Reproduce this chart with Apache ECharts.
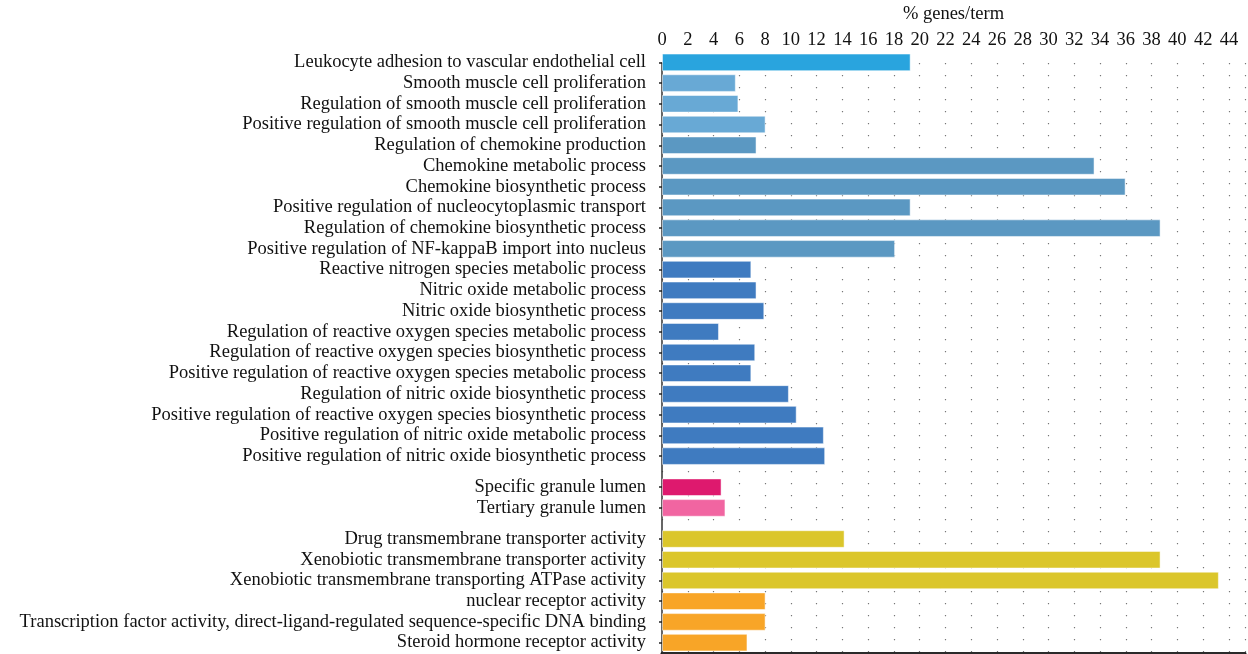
<!DOCTYPE html>
<html>
<head>
<meta charset="utf-8">
<title>% genes/term</title>
<script src="https://cdn.jsdelivr.net/npm/echarts@6/dist/echarts.min.js"></script>
<style>
    html, body { margin: 0; padding: 0; background: #fff; }
    #chart { width: 1248px; height: 654px; }
</style>
</head>
<body>
<div id="chart"></div>
<script>
// ---- data ----
const processTerms = [
    'Leukocyte adhesion to vascular endothelial cell',
    'Smooth muscle cell proliferation',
    'Regulation of smooth muscle cell proliferation',
    'Positive regulation of smooth muscle cell proliferation',
    'Regulation of chemokine production',
    'Chemokine metabolic process',
    'Chemokine biosynthetic process',
    'Positive regulation of nucleocytoplasmic transport',
    'Regulation of chemokine biosynthetic process',
    'Positive regulation of NF-kappaB import into nucleus',
    'Reactive nitrogen species metabolic process',
    'Nitric oxide metabolic process',
    'Nitric oxide biosynthetic process',
    'Regulation of reactive oxygen species metabolic process',
    'Regulation of reactive oxygen species biosynthetic process',
    'Positive regulation of reactive oxygen species metabolic process',
    'Regulation of nitric oxide biosynthetic process',
    'Positive regulation of reactive oxygen species biosynthetic process',
    'Positive regulation of nitric oxide metabolic process',
    'Positive regulation of nitric oxide biosynthetic process'
];
const processValues = [19.2, 5.7, 5.9, 8.0, 7.3, 33.4, 35.8, 19.2, 38.5, 18.0,
    6.9, 7.3, 7.9, 4.4, 7.2, 6.9, 9.8, 10.4, 12.5, 12.6];

const componentTerms = ['Specific granule lumen', 'Tertiary granule lumen'];
const componentValues = [4.6, 4.9];

const functionTerms = [
    'Drug transmembrane transporter activity',
    'Xenobiotic transmembrane transporter activity',
    'Xenobiotic transmembrane transporting ATPase activity',
    'nuclear receptor activity',
    'Transcription factor activity, direct-ligand-regulated sequence-specific DNA binding',
    'Steroid hormone receptor activity'
];
const functionValues = [14.1, 38.5, 43.0, 8.0, 8.0, 6.6];

const xTicks = [0, 2, 4, 6, 8, 10, 12, 14, 16, 18, 20, 22, 24, 26, 28, 30, 32, 34, 36, 38, 40, 42, 44];

// ---- styles ----
const processColors = ['#29a4de', '#68a9d5', '#68a9d5', '#68a9d5',
    '#5b98c2', '#5b98c2', '#5b98c2', '#5b98c2', '#5b98c2', '#5b98c2',
    '#3f7bc0', '#3f7bc0', '#3f7bc0', '#3f7bc0', '#3f7bc0',
    '#3f7bc0', '#3f7bc0', '#3f7bc0', '#3f7bc0', '#3f7bc0'];
const componentColors = ['#de196e', '#f165a1'];
const functionColors = ['#dbc62b', '#dbc62b', '#dbc62b', '#f8a527', '#f8a527', '#f8a527'];

const FONT = '"Liberation Serif", "DejaVu Serif", serif';
const FONT_SIZE = 18.5;
const X_MAX = 45.25;

const PLOT_LEFT = 662, PLOT_TOP = 52, PLOT_BOTTOM = 653;
const groups = [
    { terms: processTerms, values: processValues, colors: processColors },
    { terms: componentTerms, values: componentValues, colors: componentColors },
    { terms: functionTerms, values: functionValues, colors: functionColors }
];
const totalRows = groups.reduce((s, g) => s + g.terms.length, 0) + (groups.length - 1) * 0.5;
const rowH = (PLOT_BOTTOM - PLOT_TOP) / totalRows;

// background grid: top axis, dotted grid lines, left/bottom axis lines
const grids = [{ left: PLOT_LEFT, right: 0, top: PLOT_TOP, height: PLOT_BOTTOM - PLOT_TOP }];
const xAxes = [{
    gridIndex: 0,
    type: 'value',
    position: 'top',
    min: 0, max: X_MAX, interval: 2,
    name: '% genes/term',
    nameLocation: 'middle',
    nameGap: 39,
    nameTextStyle: { fontFamily: FONT, fontSize: FONT_SIZE, color: '#111' },
    axisLine: { show: true, lineStyle: { color: '#111', width: 3 } },
    axisTick: { show: false },
    axisLabel: {
        margin: 13,
        fontFamily: FONT, fontSize: FONT_SIZE, color: '#111',
        formatter: v => xTicks.includes(v) ? String(v) : ''
    },
    splitLine: { show: true, lineStyle: { color: '#777', width: 1.2, type: [1.2, 10.8] } }
}, {
    gridIndex: 0,
    type: 'value',
    position: 'bottom',
    min: 0, max: X_MAX,
    axisLine: { show: true, lineStyle: { color: '#333', width: 1.5 } },
    axisTick: { show: false },
    axisLabel: { show: false },
    splitLine: { show: false }
}];
const yAxes = [{
    gridIndex: 0,
    type: 'value',
    min: 0, max: 1,
    axisLine: { show: true, lineStyle: { color: '#333', width: 1.5 } },
    axisTick: { show: false },
    axisLabel: { show: false },
    splitLine: { show: false }
}];
const series = [];

let gridTop = PLOT_TOP;
groups.forEach((g, i) => {
    const idx = i + 1;
    const h = g.terms.length * rowH;
    grids.push({ left: PLOT_LEFT, right: 0, top: gridTop, height: h });
    xAxes.push({
        gridIndex: idx, type: 'value', min: 0, max: X_MAX, show: false
    });
    yAxes.push({
        gridIndex: idx,
        type: 'category',
        inverse: true,
        data: g.terms,
        axisLine: { show: false },
        axisTick: { show: true, alignWithLabel: true, length: 3, lineStyle: { color: '#222', width: 1.5 } },
        axisLabel: { interval: 0, margin: 16, fontFamily: FONT, fontSize: FONT_SIZE, color: '#111' },
        splitLine: { show: false }
    });
    series.push({
        type: 'bar',
        xAxisIndex: idx + 1,
        yAxisIndex: idx,
        barCategoryGap: '15%',
        data: g.values.map((v, j) => ({
            value: v,
            itemStyle: { color: g.colors[j], borderColor: 'rgba(255,255,255,0.5)', borderWidth: 1 }
        }))
    });
    gridTop += h + rowH * 0.5;
});

const chart = echarts.init(document.getElementById('chart'), null, { renderer: 'canvas' });
chart.setOption({
    animation: false,
    backgroundColor: '#fff',
    grid: grids,
    xAxis: xAxes,
    yAxis: yAxes,
    series: series
});
</script>
</body>
</html>
